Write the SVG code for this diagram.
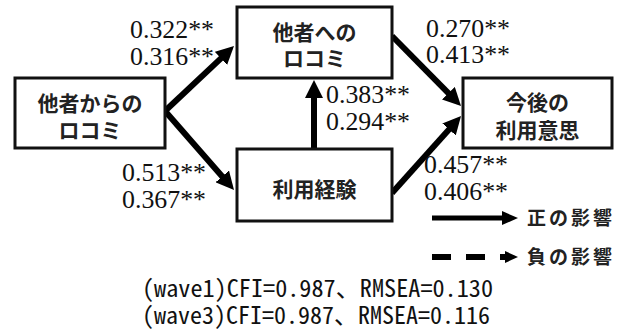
<svg xmlns="http://www.w3.org/2000/svg" width="622" height="336" viewBox="0 0 622 336">
  <style>
    .box { fill: #ffffff; stroke: #111111; stroke-width: 3; }
    .node-label { font-family: "Noto Sans CJK JP", "Noto Sans", sans-serif; font-weight: bold; font-size: 21px; fill: #222222; text-anchor: middle; }
    .coef { font-family: "Liberation Serif", "Times New Roman", serif; font-size: 26px; fill: #111111; }
    .edge { fill: none; stroke: #000000; stroke-width: 6; }
    .legend-label { font-family: "Noto Sans CJK JP", "Noto Sans", sans-serif; font-weight: bold; font-size: 19px; letter-spacing: 3px; fill: #222222; }
    .fit { font-family: "Noto Sans Mono CJK JP", "Noto Sans CJK JP", "Liberation Mono", monospace; font-size: 24px; fill: #111111; }
  </style>
  <defs>
    <marker id="head" markerUnits="userSpaceOnUse" markerWidth="18" markerHeight="18" refX="7" refY="9" orient="auto">
      <path d="M0,0 L18,9 L0,18 Z" fill="#000000"/>
    </marker>
  </defs>

  <rect width="622" height="336" fill="#ffffff"/>

  <!-- paths between constructs -->
  <g id="connectors">
    <path class="edge" d="M165,111 L226,53.6" marker-end="url(#head)"/>
    <path class="edge" d="M165,111 L226.8,181.7" marker-end="url(#head)"/>
    <path class="edge" d="M314,149 L314,91" marker-end="url(#head)"/>
    <path class="edge" d="M392,36 L453.3,98.2" marker-end="url(#head)"/>
    <path class="edge" d="M392,193 L453.7,124.2" marker-end="url(#head)"/>
  </g>

  <!-- path coefficients (wave1 over wave3) -->
  <g id="coefficients">
    <text class="coef" x="130" y="38" textLength="84" lengthAdjust="spacingAndGlyphs">0.322**</text>
    <text class="coef" x="130" y="65" textLength="84" lengthAdjust="spacingAndGlyphs">0.316**</text>
    <text class="coef" x="426" y="37" textLength="84" lengthAdjust="spacingAndGlyphs">0.270**</text>
    <text class="coef" x="426" y="63" textLength="84" lengthAdjust="spacingAndGlyphs">0.413**</text>
    <text class="coef" x="326" y="103" textLength="84" lengthAdjust="spacingAndGlyphs">0.383**</text>
    <text class="coef" x="326" y="130" textLength="84" lengthAdjust="spacingAndGlyphs">0.294**</text>
    <text class="coef" x="122" y="181" textLength="84" lengthAdjust="spacingAndGlyphs">0.513**</text>
    <text class="coef" x="122" y="208" textLength="84" lengthAdjust="spacingAndGlyphs">0.367**</text>
    <text class="coef" x="424" y="173" textLength="84" lengthAdjust="spacingAndGlyphs">0.457**</text>
    <text class="coef" x="424" y="200" textLength="84" lengthAdjust="spacingAndGlyphs">0.406**</text>
  </g>

  <g id="wom-received">
    <rect class="box" x="15" y="78" width="150" height="70"/>
    <text class="node-label" x="90" y="111">他者からの</text>
    <text class="node-label" x="90" y="138">ロコミ</text>
  </g>

  <g id="wom-given">
    <rect class="box" x="237" y="7" width="155" height="71"/>
    <text class="node-label" x="314.5" y="40">他者への</text>
    <text class="node-label" x="314.5" y="66">ロコミ</text>
  </g>

  <g id="usage-experience">
    <rect class="box" x="237" y="149" width="155" height="72"/>
    <text class="node-label" x="314.5" y="197">利用経験</text>
  </g>

  <g id="future-intention">
    <rect class="box" x="463" y="78" width="149" height="70"/>
    <text class="node-label" x="537.5" y="110">今後の</text>
    <text class="node-label" x="537.5" y="138">利用意思</text>
  </g>

  <!-- legend -->
  <g id="legend">
    <line x1="432" y1="218" x2="505" y2="218" stroke="#000000" stroke-width="5"/>
    <polygon points="502,211 518,218 502,225" fill="#000000"/>
    <text class="legend-label" x="527" y="225">正の影響</text>
    <line x1="432" y1="257" x2="507" y2="257" stroke="#000000" stroke-width="6" stroke-dasharray="19 15"/>
    <polygon points="505,251 518,257 505,263" fill="#000000"/>
    <text class="legend-label" x="527" y="264">負の影響</text>
  </g>

  <!-- model fit indices -->
  <g id="fit-indices">
    <text class="fit" x="142" y="297" textLength="351" lengthAdjust="spacingAndGlyphs">(wave1)CFI=0.987、RMSEA=0.130</text>
    <text class="fit" x="142" y="324" textLength="348" lengthAdjust="spacingAndGlyphs">(wave3)CFI=0.987、RMSEA=0.116</text>
  </g>
</svg>
